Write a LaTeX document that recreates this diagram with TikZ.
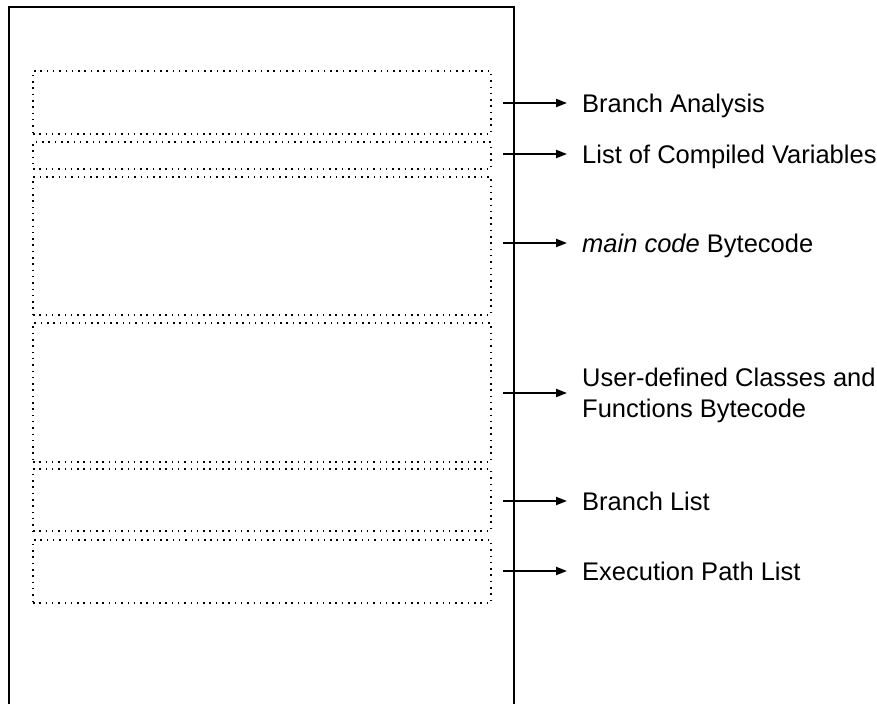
\documentclass[tikz,border=0pt]{standalone}
\usepackage{fontspec}
\setmainfont{Liberation Sans}
\usetikzlibrary{arrows.meta}
\begin{document}
\begin{tikzpicture}[x=1pt,y=-1pt,
  region/.style={draw, line width=1.5pt, dash pattern=on 1.5pt off 4.8pt,
                 inner sep=0pt, minimum width=458pt},
  desc/.style={anchor=base west, inner sep=0pt, align=left,
               font=\fontsize{25.5}{31}\selectfont},
  link/.style={line width=2pt, shorten >=15pt,
               -{Triangle[length=11pt,width=8pt]}}
]
\useasboundingbox (0,0) rectangle (877,704);

% memory block, open at the bottom
\draw[line width=2pt, line join=miter] (9,704) -- (9,7) -- (514,7) -- (514,704);

% dotted sections inside the block
\node[region, minimum height=63pt]  (b1) at (262,102.5) {};
\node[region, minimum height=27pt]  (b2) at (262,155.5) {};
\node[region, minimum height=138pt] (b3) at (262,246) {};
\node[region, minimum height=139pt] (b4) at (262,392.5) {};
\node[region, minimum height=62pt]  (b5) at (262,500) {};
\node[region, minimum height=63pt]  (b6) at (262,571.5) {};

% arrow start points
\coordinate (a1) at (503,103);
\coordinate (a2) at (503,154);
\coordinate (a3) at (503,243);
\coordinate (a4) at (503,393);
\coordinate (a5) at (503,501);
\coordinate (a6) at (503,571);

% descriptions
\node[desc] (t1) at (582,112.5) {Branch Analysis};
\node[desc] (t2) at (582,163.5) {List of Compiled Variables};
\node[desc] (t3) at (582,252.5) {\textit{main code} Bytecode};
\node[desc, anchor=west] (t4) at (582,395.5) {User-defined Classes and\\Functions Bytecode};
\node[desc] (t5) at (582,510.5) {Branch List};
\node[desc] (t6) at (582,580.5) {Execution Path List};

% connectors
\draw[link] (a1) -- (a1 -| t1.west);
\draw[link] (a2) -- (a2 -| t2.west);
\draw[link] (a3) -- (a3 -| t3.west);
\draw[link] (a4) -- (a4 -| t4.west);
\draw[link] (a5) -- (a5 -| t5.west);
\draw[link] (a6) -- (a6 -| t6.west);
\end{tikzpicture}
\end{document}
